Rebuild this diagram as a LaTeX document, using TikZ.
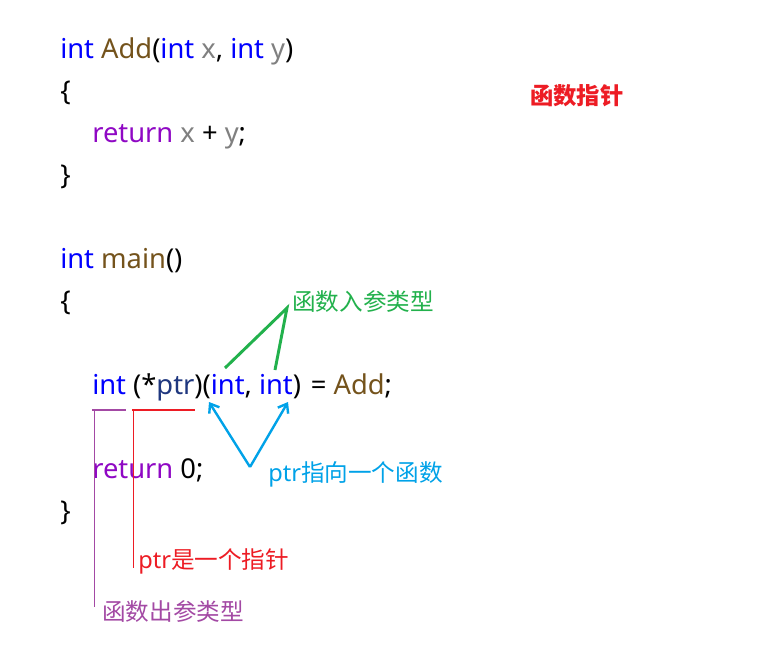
\documentclass[tikz,border=0pt]{standalone}
\usepackage{fontspec}
\setmainfont{Noto Sans}
\newfontfamily\cjk{Noto Sans CJK SC}
\usetikzlibrary{arrows.meta}
\definecolor{kw}{RGB}{0,0,255}
\definecolor{fn}{RGB}{116,83,28}
\definecolor{ret}{RGB}{143,8,196}
\definecolor{var}{RGB}{128,128,128}
\definecolor{ptrc}{RGB}{31,55,127}
\definecolor{ared}{RGB}{237,28,36}
\definecolor{agreen}{RGB}{34,177,76}
\definecolor{ablue}{RGB}{0,162,232}
\definecolor{apurple}{RGB}{163,73,164}
\tikzset{
  code/.style={anchor=base west, inner sep=0pt, font=\fontsize{20.5}{22}\selectfont},
  note/.style={anchor=base west, inner sep=0pt, font=\fontsize{17.7}{19}\selectfont},
}
\newcommand{\kw}[1]{\textcolor{kw}{#1}}
\newcommand{\fnc}[1]{\textcolor{fn}{#1}}
\newcommand{\rt}[1]{\textcolor{ret}{#1}}
\newcommand{\vr}[1]{\textcolor{var}{#1}}
\begin{document}
\begin{tikzpicture}[x=0.75pt,y=-0.75pt]
\useasboundingbox[fill=white] (0,0) rectangle (769,658);
% code
\node[code] (l1) at (60,58) {\kw{int} \fnc{Add}(\kw{int} \vr{x}, \kw{int} \vr{y})};
\node[code] (l2) at (60,100) {\{};
\node[code] (l3) at (92,142) {\rt{return} \vr{x} + \vr{y};};
\node[code] (l4) at (60,184) {\}};
\node[code] (l5) at (60,268) {\kw{int} \fnc{main}()};
\node[code] (l6) at (60,310) {\{};
\node[code] (l7) at (92,394) {\kw{int} (*\textcolor{ptrc}{ptr})(\kw{int}, \kw{int})\ \hspace{2pt}= \fnc{Add};};
\node[code] (l8) at (92,478) {\rt{return} 0;};
\node[code] (l9) at (60,520) {\}};
% notes
\node[note, text=ared, font=\fontsize{17.5}{19}\selectfont\cjk\bfseries] (title) at (530,104) {函数指针};
\node[note, text=agreen] (nin) at (292,310) {\cjk 函数入参类型};
\node[note, text=ablue] (nptr) at (268,481) {ptr{\cjk 指向一个函数}};
\node[note, text=ared] (nis) at (138,568) {ptr{\cjk 是一个指针}};
\node[note, text=apurple] (nout) at (102,620) {\cjk 函数出参类型};
% coordinates
\coordinate (g0) at (287,308);
\coordinate (g1) at (225,368);
\coordinate (g2) at (275,370);
\coordinate (b0) at (250,467);
\coordinate (b1) at (209,402);
\coordinate (b2) at (288,402);
\coordinate (pu1) at (92,410);
\coordinate (pu2) at (126,410);
\coordinate (pv1) at (94,410);
\coordinate (pv2) at (94,607);
\coordinate (ru1) at (132,410);
\coordinate (ru2) at (195,410);
\coordinate (rv1) at (133,410);
\coordinate (rv2) at (133,568);
% connectors
\draw[agreen, line width=2.2pt] (g1) -- (g0) -- (g2);
\draw[ablue, line width=1.8pt, -{Straight Barb[length=6pt,width=9pt]}] (b0) -- (b1);
\draw[ablue, line width=1.8pt, -{Straight Barb[length=6pt,width=9pt]}] (b0) -- (b2);
\draw[apurple, line width=2.2pt] (pu1) -- (pu2);
\draw[apurple, line width=0.6pt] (pv1) -- (pv2);
\draw[ared, line width=2.2pt] (ru1) -- (ru2);
\draw[ared, line width=0.6pt] (rv1) -- (rv2);
\end{tikzpicture}
\end{document}
